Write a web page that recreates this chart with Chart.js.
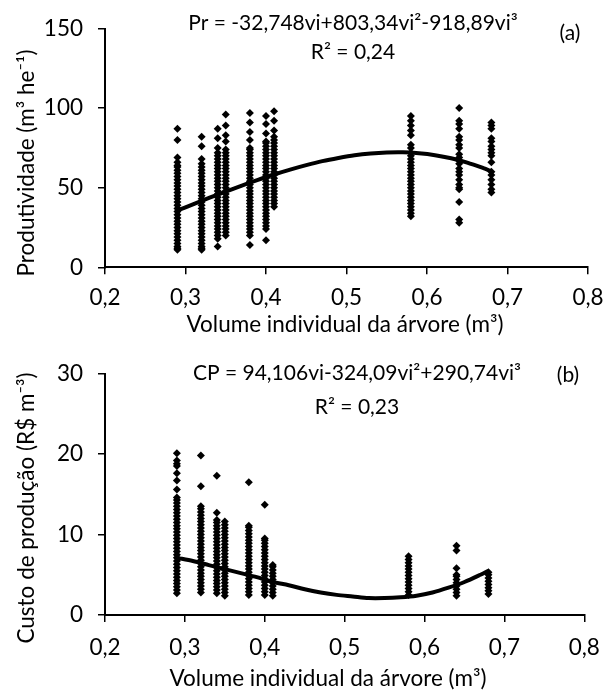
<!DOCTYPE html>
<html>
<head>
<meta charset="utf-8">
<script src="https://cdn.jsdelivr.net/npm/chart.js@4/dist/chart.umd.min.js"></script>
<style>
  html, body { margin: 0; padding: 0; background: #ffffff; }
  #wrap { position: relative; width: 616px; height: 693px; overflow: hidden; background: #fff; }
  canvas { position: absolute; left: 0; }
</style>
</head>
<body>
<div id="wrap">
  <canvas id="chartA" width="616" height="345" style="top:0px"></canvas>
  <canvas id="chartB" width="616" height="348" style="top:345px"></canvas>
</div>
<script>
// ---------------- DATA ----------------
const volumes = [0.29, 0.32, 0.34, 0.35, 0.38, 0.40, 0.41, 0.58, 0.64, 0.68];

// (a) Produtividade (m3 he-1) per volume column
const prod029 = [11,12,13,15,17,19,21,23,25,27,29,31,33,35,37,39,41,43,45,47,49,51,53,55,57,59,61,63,64,66,69,80,87];
const prod032 = [11,12,13,15,17,19,21,23,25,27,29,31,33,35,37,39,41,43,45,47,49,51,53,55,57,59,61,63,65,68,76,82];
const prod034 = [13,18,20,22,24,26,28,30,32,34,36,38,40,42,44,46,48,50,52,54,56,58,60,62,64,66,68,70,72,75,81,87];
const prod035 = [20,22,24,26,28,30,32,34,36,38,40,42,44,46,48,50,52,54,56,58,60,62,64,66,68,70,72,74,79,83,89,96];
const prod038 = [14,20,22,24,26,28,30,32,34,36,38,40,42,44,46,48,50,52,54,56,58,60,62,64,66,68,70,72,74,75,80,85,91,97];
const prod040 = [17,24,26,28,30,32,34,36,38,40,42,44,46,48,50,52,54,56,58,60,62,64,66,68,70,72,74,76,78,79,84,90,95];
const prod041 = [38,40,42,44,46,48,50,52,54,56,58,60,62,64,66,68,70,72,74,76,78,80,82,86,92,98];
const prod058 = [32,34,36,38,40,42,44,46,48,50,52,54,56,58,60,62,64,66,68,70,72,75,77,83,86,89,92,95];
const prod064 = [28,30,41,49,50,52,55,58,60,62,65,67,69,71,75,77,80,82,87,90,92,100];
const prod068 = [47,49,52,55,58,60,66,70,72,74,76,79,81,87,89,91];

// (b) Custo de produção (R$ m-3) per volume column
const cost029 = [2.7,3.1,3.5,3.9,4.3,4.7,5.1,5.5,5.9,6.3,6.7,7.1,7.5,7.9,8.3,8.7,9.1,9.5,9.9,10.3,10.7,11.1,11.5,11.9,12.3,12.7,13.1,13.5,13.9,14.3,14.6,15.6,16.7,17.6,18.5,18.8,19.2,20.1];
const cost032 = [2.8,3.2,3.6,4.0,4.4,4.8,5.2,5.6,6.0,6.4,6.8,7.2,7.6,8.0,8.4,8.8,9.2,9.6,10.0,10.4,10.8,11.2,11.6,12.0,12.4,12.8,13.2,13.5,16.0,19.8];
const cost034 = [2.7,3.1,3.5,3.9,4.3,4.7,5.1,5.5,5.9,6.3,6.7,7.1,7.5,7.9,8.3,8.7,9.1,9.5,9.9,10.3,10.7,11.1,11.5,11.8,12.7,17.3];
const cost035 = [2.4,2.8,3.2,3.6,4.0,4.4,4.8,5.2,5.6,6.0,6.4,6.8,7.2,7.6,8.0,8.4,8.8,9.2,9.6,10.0,10.4,10.8,11.2,11.6];
const cost038 = [2.5,2.9,3.3,3.7,4.1,4.5,4.9,5.3,5.7,6.1,6.5,6.9,7.3,7.7,8.1,8.5,8.9,9.3,9.7,10.1,10.5,10.9,11.1,16.5];
const cost040 = [2.5,2.9,3.3,3.7,4.1,4.5,4.9,5.3,5.7,6.1,6.5,6.9,7.3,7.7,8.1,8.5,8.9,9.3,9.5,13.7];
const cost041 = [2.4,2.8,3.2,3.6,4.0,4.4,4.8,5.2,5.6,6.0,6.2];
const cost058 = [2.5,2.9,3.3,3.7,4.1,4.5,4.9,5.3,5.7,6.1,6.5,6.9,7.3];
const cost064 = [2.4,2.8,3.2,3.6,4.0,4.4,4.8,5.0,5.8,8.0,8.6];
const cost068 = [2.6,3.0,3.4,3.8,4.2,4.6,5.0,5.3];

// fitted curves
const curveVolumes = [0.29,0.31,0.33,0.35,0.37,0.39,0.41,0.43,0.45,0.47,0.49,0.51,0.53,0.55,0.57,0.59,0.61,0.63,0.65,0.67,0.68];
const prodCurve = [35.7,39.7,43.7,47.6,51.3,54.9,58.3,61.4,64.2,66.7,68.7,70.4,71.5,72.1,72.2,71.6,70.4,68.5,65.8,62.3,60.3];
const costCurve = [7.1,6.7,6.2,5.7,5.2,4.7,4.1,3.7,3.2,2.8,2.5,2.3,2.1,2.1,2.2,2.4,2.8,3.4,4.1,5.0,5.5];

// tick labels
const xTickLabels = ['0,2','0,3','0,4','0,5','0,6','0,7','0,8'];
const yTickLabelsA = ['0','50','100','150'];
const yTickLabelsB = ['0','10','20','30'];

// texts
const eqA = 'Pr = -32,748vi+803,34vi\u00B2-918,89vi\u00B3';
const r2A = 'R\u00B2 = 0,24';
const tagA = '(a)';
const eqB = 'CP = 94,106vi-324,09vi\u00B2+290,74vi\u00B3';
const r2B = 'R\u00B2 = 0,23';
const tagB = '(b)';
const xTitle = 'Volume individual da \u00E1rvore (m\u00B3)';
const yTitleA = 'Produtividade (m\u00B3 he\u207B\u00B9)';
const yTitleB = 'Custo de produ\u00E7\u00E3o (R$ m\u207B\u00B3)';

// ---------------- BUILD ----------------
const FONT = 'Lato, "Open Sans", sans-serif';
const FS = 22.5;   // ticks & axis titles
const FS_EQ = 21;  // equations

function columnsToPoints(cols) {
  const pts = [];
  cols.forEach((vals, i) => vals.forEach(v => pts.push({ x: volumes[i], y: v })));
  return pts;
}
function curvePoints(ys) {
  return curveVolumes.map((x, i) => ({ x: x, y: ys[i] }));
}

function textPlugin(items) {
  return {
    id: 'texts',
    afterDraw(chart) {
      const ctx = chart.ctx;
      ctx.save();
      ctx.fillStyle = '#000';
      ctx.textBaseline = 'middle';
      ctx.textAlign = 'center';
      items.forEach(it => {
        ctx.font = (it.fs || FS) + 'px ' + FONT;
        if (it.rot) {
          ctx.save();
          ctx.translate(it.x, it.y);
          ctx.rotate(-Math.PI / 2);
          ctx.fillText(it.t, 0, 0);
          ctx.restore();
        } else {
          ctx.fillText(it.t, it.x, it.y);
        }
      });
      ctx.restore();
    }
  };
}

function makeChart(canvasId, cfg) {
  const tickFont = { family: FONT, size: FS };
  return new Chart(document.getElementById(canvasId), {
    type: 'scatter',
    data: {
      datasets: [
        {
          type: 'line',
          data: curvePoints(cfg.curve),
          borderColor: '#000',
          borderWidth: 4,
          pointRadius: 0,
          fill: false,
          tension: 0.3,
          order: 0
        },
        {
          data: columnsToPoints(cfg.cols),
          pointStyle: 'rectRot',
          pointRadius: 4,
          backgroundColor: '#000',
          borderColor: '#000',
          borderWidth: 0,
          order: 1
        }
      ]
    },
    options: {
      responsive: false,
      animation: false,
      devicePixelRatio: 1,
      layout: { padding: { top: cfg.padTop, right: cfg.padRight, left: 0, bottom: 0 } },
      plugins: { legend: { display: false }, tooltip: { enabled: false } },
      scales: {
        x: {
          type: 'linear',
          min: 0.2, max: 0.8,
          ticks: {
            stepSize: 0.1,
            color: '#000',
            font: tickFont,
            padding: cfg.xPad,
            maxRotation: 0,
            callback: (v, i) => xTickLabels[i]
          },
          grid: { drawOnChartArea: false, drawTicks: true, tickLength: 7, color: '#000', lineWidth: 1.5 },
          border: { display: true, color: '#000', width: 2 },
          afterFit: s => { s.height = cfg.xAxisHeight; }
        },
        y: {
          type: 'linear',
          min: 0, max: cfg.yMax,
          ticks: {
            stepSize: cfg.yStep,
            color: '#000',
            font: tickFont,
            padding: 15,
            callback: (v, i) => cfg.yLabels[i]
          },
          grid: { drawOnChartArea: false, drawTicks: true, tickLength: 7, color: '#000', lineWidth: 1.5 },
          border: { display: true, color: '#000', width: 2 },
          afterFit: s => { s.width = 105; }
        }
      }
    },
    plugins: [textPlugin(cfg.texts)]
  });
}

makeChart('chartA', {
  cols: [prod029, prod032, prod034, prod035, prod038, prod040, prod041, prod058, prod064, prod068],
  curve: prodCurve,
  yMax: 150, yStep: 50, yLabels: yTickLabelsA,
  padTop: 18, padRight: 28, xAxisHeight: 345 - 267.3, xPad: 10,
  texts: [
    { t: eqA, x: 353, y: 23, fs: FS_EQ },
    { t: r2A, x: 353, y: 52, fs: FS_EQ },
    { t: tagA, x: 570, y: 33, fs: FS_EQ },
    { t: xTitle, x: 345, y: 325 },
    { t: yTitleA, x: 27, y: 163, rot: true }
  ]
});

makeChart('chartB', {
  cols: [cost029, cost032, cost034, cost035, cost038, cost040, cost041, cost058, cost064, cost068],
  curve: costCurve,
  yMax: 30, yStep: 10, yLabels: yTickLabelsB,
  padTop: 372.7 - 345, padRight: 616 - 584.3, xAxisHeight: 348 - 270, xPad: 12,
  texts: [
    { t: eqB, x: 357, y: 373 - 345, fs: FS_EQ },
    { t: r2B, x: 357, y: 407 - 345, fs: FS_EQ },
    { t: tagB, x: 568, y: 375 - 345, fs: FS_EQ },
    { t: xTitle, x: 328, y: 679 - 345 },
    { t: yTitleB, x: 27, y: 508 - 345, rot: true }
  ]
});
</script>
</body>
</html>
